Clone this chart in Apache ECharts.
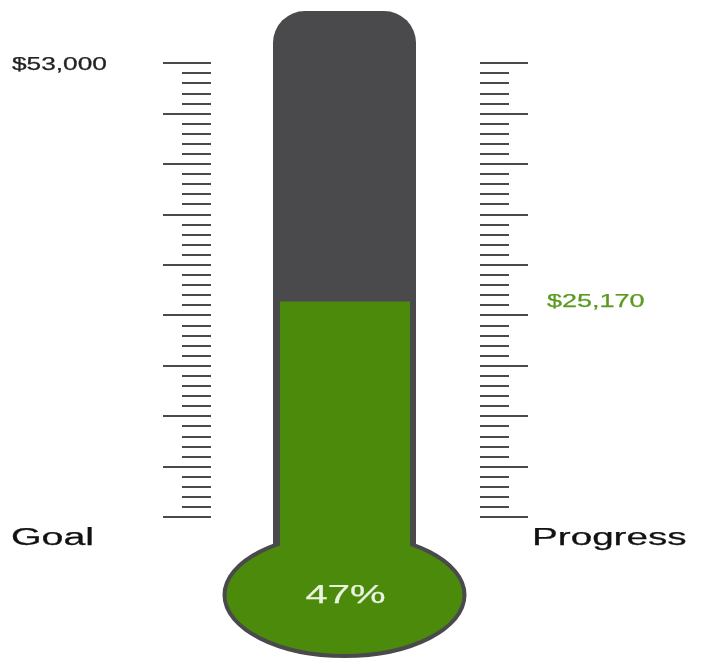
<!DOCTYPE html>
<html>
<head>
<meta charset="utf-8">
<script src="https://cdn.jsdelivr.net/npm/echarts@6/dist/echarts.min.js"></script>
<style>html,body{margin:0;padding:0;background:#fff;}#c{width:705px;height:668px;}</style>
</head>
<body>
<div id="c"></div>
<script>
const categories = ['Fundraising'];
const goalValues = [53000];
const raisedValues = [25170];
const scaleNames = ['Goal', 'Progress'];
const majorDivisions = 9;

const GRAY = '#4a4a4c';
const GREEN = '#4c8a0c';
const FONT = '"Liberation Sans", Arial, sans-serif';

const fmt = v => '$' + Math.round(v).toLocaleString('en-US');

const chart = echarts.init(document.getElementById('c'));
const goal = goalValues[0];
const tickAxis = (pos) => ({
  type: 'value', position: pos, min: 0, max: goal, interval: goal / majorDivisions,
  axisLine: { show: false },
  axisLabel: { show: false },
  splitLine: { show: false },
  axisTick: { show: true, length: 48, lineStyle: { color: '#4a4a4a', width: 2 } },
  minorTick: { show: true, splitNumber: 5, length: 29, lineStyle: { color: '#4a4a4a', width: 2 } },
  minorSplitLine: { show: false }
});

chart.setOption({
  animation: false,
  grid: { left: 211, right: 225, top: 63, bottom: 151 },
  xAxis: { type: 'category', data: categories, show: false },
  yAxis: [tickAxis('left'), tickAxis('right')],
  series: [{
    type: 'custom',
    clip: false,
    data: categories.map((c, i) => [i, raisedValues[i], goalValues[i]]),
    renderItem: function (params, api) {
      const cs = params.coordSys;
      const p = api.value(1), g = api.value(2);
      const cx = api.coord([api.value(0), 0])[0] - 1;
      const y0 = api.coord([api.value(0), 0])[1];
      const yG = api.coord([api.value(0), g])[1];
      const yP = api.coord([api.value(0), p])[1];
      const rightX = cs.x + cs.width;
      const pct = Math.round(p / g * 100) + '%';
      const txt = (text, x, y, size, color, align, sx) => ({
        type: 'text', x: x, y: y, scaleX: sx, scaleY: 1,
        style: { text: text, fill: color, stroke: color, lineWidth: 0.25, font: 'normal ' + size + 'px ' + FONT, align: align, verticalAlign: 'middle' }
      });
      return {
        type: 'group',
        children: [
          { type: 'rect', shape: { x: cx - 71.5, y: yG - 52, width: 143, height: (y0 + 45) - (yG - 52), r: [32, 32, 0, 0] },
            style: { fill: GRAY } },
          { type: 'ellipse', shape: { cx: cx, cy: y0 + 78, rx: 120, ry: 61 },
            style: { fill: GREEN, stroke: GRAY, lineWidth: 4 } },
          { type: 'rect', shape: { x: cx - 64.5, y: yP, width: 130, height: (y0 + 50) - yP },
            style: { fill: GREEN } },
          txt(pct, cx + 1, y0 + 79.5, 25, '#eaf5e0', 'center', 1.6),
          txt(fmt(g), 12, yG + 2, 17.5, '#222', 'left', 1.5),
          txt(fmt(p), rightX + 67, yP + 1, 18, '#5a9a1e', 'left', 1.5),
          txt(scaleNames[0], 11, y0 + 22, 23, '#111', 'left', 1.71),
          txt(scaleNames[1], rightX + 52, y0 + 22, 23, '#111', 'left', 1.68)
        ]
      };
    }
  }]
});
</script>
</body>
</html>
